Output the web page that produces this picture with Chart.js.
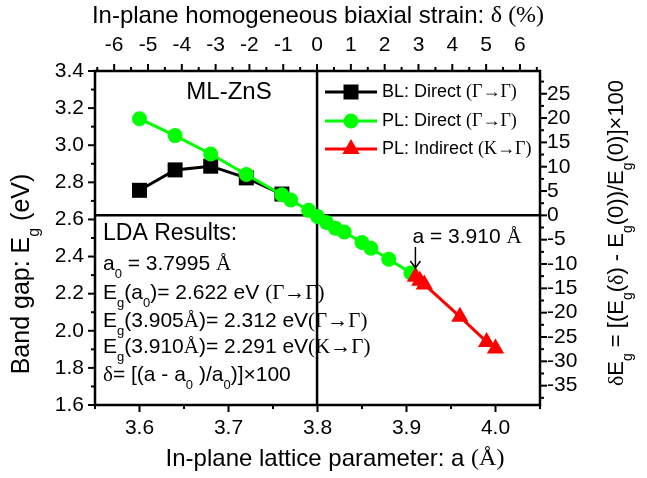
<!DOCTYPE html>
<html><head><meta charset="utf-8">
<script src="https://cdn.jsdelivr.net/npm/chart.js@4/dist/chart.umd.min.js"></script>
<style>html,body{margin:0;padding:0;background:#fff}#wrap{width:647px;height:478px;position:relative}</style>
</head><body><div id="wrap"><canvas id="c" width="647" height="478" style="width:647px;height:478px"></canvas></div>
<script>
// ---- data ----
const aBL  = [3.60, 3.64, 3.68, 3.72, 3.76];
const egBL = [2.757, 2.867, 2.887, 2.824, 2.737];
const aPLd  = [3.60, 3.64, 3.68, 3.72, 3.76, 3.77, 3.79, 3.80, 3.81, 3.82, 3.83, 3.85, 3.86, 3.88, 3.905];
const egPLd = [3.143, 3.052, 2.953, 2.842, 2.733, 2.705, 2.649, 2.616, 2.584, 2.553, 2.532, 2.476, 2.445, 2.386, 2.312];
const aPLi  = [3.91, 3.915, 3.92, 3.96, 3.99, 4.00];
const egPLi = [2.291, 2.270, 2.250, 2.076, 1.940, 1.905];
const a0 = 3.7995, eg0 = 2.622;
const xTicks = [3.6, 3.7, 3.8, 3.9, 4.0];
const yTicks = [1.6, 1.8, 2.0, 2.2, 2.4, 2.6, 2.8, 3.0, 3.2, 3.4];
const strainTicks = [-6, -5, -4, -3, -2, -1, 0, 1, 2, 3, 4, 5, 6];
const dETicks = [25, 20, 15, 10, 5, 0, -5, -10, -15, -20, -25, -30, -35];
const xRange = [3.55, 4.05], yRange = [1.6, 3.4];

const SANS = '"Liberation Sans", Arial, sans-serif';
const SERIF = '"Liberation Serif", "Times New Roman", serif';
Chart.defaults.font.family = SANS;
Chart.defaults.color = '#000';

const toPts = (xs, ys) => xs.map((x, i) => ({x, y: ys[i]}));
const strain = a => (a - a0) / a0 * 100;
const dE = e => (e - eg0) / eg0 * 100;

function rich(ctx, segs, x, y, align, fs) {
  const fontOf = k => k === 's' ? `${fs}px ${SERIF}` : k === 'b' ? `${Math.round(fs * 0.62)}px ${SANS}` : `${fs}px ${SANS}`;
  let w = 0;
  segs.forEach(([t, k]) => { ctx.font = fontOf(k); w += ctx.measureText(t).width; });
  let cx = align === 'center' ? x - w / 2 : x;
  ctx.textBaseline = 'middle'; ctx.textAlign = 'left'; ctx.fillStyle = '#000';
  segs.forEach(([t, k]) => {
    ctx.font = fontOf(k);
    ctx.fillText(t, cx, k === 'b' ? y + fs * 0.5 : y);
    cx += ctx.measureText(t).width;
  });
}

const GREEN = '#00ff00', RED = '#ff0000';

const deco = {
  id: 'deco',
  beforeDatasetsDraw(chart) {
    const {ctx, chartArea: ca, scales} = chart;
    ctx.save();
    ctx.strokeStyle = '#000'; ctx.lineWidth = 2.5;
    const vx = scales.x.getPixelForValue(a0), hy = scales.y.getPixelForValue(eg0);
    ctx.beginPath(); ctx.moveTo(vx, ca.top); ctx.lineTo(vx, ca.bottom);
    ctx.moveTo(ca.left, hy); ctx.lineTo(ca.right, hy); ctx.stroke();
    ctx.restore();
  },
  afterDraw(chart) {
    const {ctx, chartArea: ca, scales} = chart;
    ctx.save();
    ctx.strokeStyle = '#000';
    ctx.lineWidth = 2.5;
    ctx.strokeRect(ca.left, ca.top, ca.right - ca.left, ca.bottom - ca.top);
    ctx.lineWidth = 2;
    const MJ = 7, MN = 4;
    const tick = (sc, v, len, side) => {
      ctx.beginPath();
      const p = sc.getPixelForValue(v);
      if (side === 'b') { ctx.moveTo(p, ca.bottom); ctx.lineTo(p, ca.bottom + len); }
      if (side === 't') { ctx.moveTo(p, ca.top); ctx.lineTo(p, ca.top - len); }
      if (side === 'l') { ctx.moveTo(ca.left, p); ctx.lineTo(ca.left - len, p); }
      if (side === 'r') { ctx.moveTo(ca.right, p); ctx.lineTo(ca.right + len, p); }
      ctx.stroke();
    };
    xTicks.forEach(v => { tick(scales.x, v, MJ, 'b'); tick(scales.x, v - 0.05, MN, 'b'); });
    tick(scales.x, 4.05, MN, 'b');
    yTicks.forEach(v => { tick(scales.y, v, MJ, 'l'); if (v < 3.4) tick(scales.y, v + 0.1, MN, 'l'); });
    strainTicks.forEach(v => { tick(scales.x2, v, MJ, 't'); tick(scales.x2, v - 0.5, MN, 't'); });
    tick(scales.x2, 6.5, MN, 't');
    dETicks.forEach(v => { tick(scales.y2, v, MJ, 'r'); tick(scales.y2, v - 2.5, MN, 'r'); });
    tick(scales.y2, 27.5, MN, 'r');

    // axis titles
    rich(ctx, [['In-plane lattice parameter: a ', 'n'], ['(Å)', 's']], 335, 459, 'center', 24);
    rich(ctx, [['In-plane homogeneous biaxial strain: ', 'n'], ['δ (%)', 's']], 318, 16, 'center', 24);
    ctx.save(); ctx.translate(22, 274); ctx.rotate(-Math.PI / 2);
    rich(ctx, [['Band gap: E', 'n'], ['g', 'b'], [' (eV)', 'n']], 0, 0, 'center', 25);
    ctx.restore();
    ctx.save(); ctx.translate(617, 233); ctx.rotate(-Math.PI / 2);
    rich(ctx, [['δ', 's'], ['E', 'n'], ['g', 'b'], [' = [(E', 'n'], ['g', 'b'], ['(', 'n'], ['δ', 's'], [') - E', 'n'], ['g', 'b'], ['(0))/E', 'n'], ['g', 'b'], ['(0)]×100', 'n']], 0, 0, 'center', 22);
    ctx.restore();

    rich(ctx, [['ML-ZnS', 'n']], 229, 92, 'center', 24);

    // legend
    const lx0 = 325, lx1 = 377, mx = 351, tx = 382;
    const rows = [
      {y: 92, color: '#000', shape: 'rect', txt: [['BL: Direct ', 'n'], ['(Γ→Γ)', 's']]},
      {y: 121, color: GREEN, shape: 'circle', txt: [['PL: Direct ', 'n'], ['(Γ→Γ)', 's']]},
      {y: 149, color: RED, shape: 'tri', txt: [['PL: Indirect ', 'n'], ['(Κ→Γ)', 's']]}
    ];
    rows.forEach(r => {
      ctx.strokeStyle = r.color; ctx.fillStyle = r.color; ctx.lineWidth = 3;
      ctx.beginPath(); ctx.moveTo(lx0, r.y); ctx.lineTo(lx1, r.y); ctx.stroke();
      ctx.beginPath();
      if (r.shape === 'rect') ctx.rect(mx - 7.5, r.y - 7.5, 15, 15);
      if (r.shape === 'circle') ctx.arc(mx, r.y, 7.5, 0, Math.PI * 2);
      if (r.shape === 'tri') { const R = 10; ctx.moveTo(mx, r.y - R); ctx.lineTo(mx + R * 0.866, r.y + R / 2); ctx.lineTo(mx - R * 0.866, r.y + R / 2); ctx.closePath(); }
      ctx.fill();
      rich(ctx, r.txt, tx, r.y, 'left', 18);
    });

    // LDA results text
    const L = 103;
    rich(ctx, [['LDA Results:', 'n']], L, 234, 'left', 23);
    rich(ctx, [['a', 'n'], ['0', 'b'], [' = 3.7995 ', 'n'], ['Å', 's']], L, 264, 'left', 21);
    rich(ctx, [['E', 'n'], ['g', 'b'], ['(a', 'n'], ['0', 'b'], [')= 2.622 eV ', 'n'], ['(Γ→Γ)', 's']], L, 293, 'left', 21);
    rich(ctx, [['E', 'n'], ['g', 'b'], ['(3.905', 'n'], ['Å', 's'], [')= 2.312 eV', 'n'], ['(Γ→Γ)', 's']], L, 321, 'left', 21);
    rich(ctx, [['E', 'n'], ['g', 'b'], ['(3.910', 'n'], ['Å', 's'], [')= 2.291 eV', 'n'], ['(Κ→Γ)', 's']], L, 347, 'left', 21);
    rich(ctx, [['δ', 's'], ['= [(a - a', 'n'], ['0', 'b'], [' )/a', 'n'], ['0', 'b'], [')]×100', 'n']], L, 375, 'left', 21);

    // a = 3.910 annotation
    rich(ctx, [['a = 3.910 ', 'n'], ['Å', 's']], 467, 237, 'center', 21);
    const ax = scales.x.getPixelForValue(3.91);
    ctx.strokeStyle = '#000'; ctx.lineWidth = 1.5;
    ctx.beginPath(); ctx.moveTo(ax, 247); ctx.lineTo(ax, 268);
    ctx.moveTo(ax - 5, 261); ctx.lineTo(ax, 268); ctx.lineTo(ax + 5, 261); ctx.stroke();
    ctx.restore();
  }
};

const tickFont = {size: 21, family: SANS};
const gridOpt = {display: true, drawOnChartArea: false, drawTicks: false, color: 'rgba(0,0,0,0)'};
new Chart(document.getElementById('c'), {
  type: 'scatter',
  data: {
    datasets: [
      {label: 'PL: Indirect (K→Γ)', data: toPts(aPLi, egPLi), showLine: true, borderColor: RED, backgroundColor: RED,
       borderWidth: 3, pointStyle: 'triangle', pointRadius: 10, pointHoverRadius: 10, pointBorderWidth: 0},
      {label: 'PL: Direct (Γ→Γ)', data: toPts(aPLd, egPLd), showLine: true, borderColor: GREEN, backgroundColor: GREEN,
       borderWidth: 3, pointStyle: 'circle', pointRadius: 7.5, pointHoverRadius: 7.5, pointBorderWidth: 0},
      {label: 'BL: Direct (Γ→Γ)', data: toPts(aBL, egBL), showLine: true, borderColor: '#000', backgroundColor: '#000',
       borderWidth: 3, pointStyle: 'rect', pointRadius: 10.6, pointHoverRadius: 10.6, pointBorderWidth: 0}
    ]
  },
  options: {
    responsive: false, maintainAspectRatio: false, animation: false, devicePixelRatio: 1,
    layout: {padding: 0},
    plugins: {legend: {display: false}, tooltip: {enabled: false}},
    scales: {
      x: {type: 'linear', position: 'bottom', min: xRange[0], max: xRange[1],
          afterBuildTicks: s => { s.ticks = xTicks.map(v => ({value: v})); },
          afterFit: s => { s.height = 73; },
          ticks: {font: tickFont, color: '#000', padding: 11, maxRotation: 0, autoSkip: false, callback: v => Number(v).toFixed(1)},
          grid: gridOpt, border: {display: false}},
      x2: {type: 'linear', position: 'top', min: strain(xRange[0]), max: strain(xRange[1]),
          afterBuildTicks: s => { s.ticks = strainTicks.map(v => ({value: v})); },
          afterFit: s => { s.height = 71; },
          ticks: {font: tickFont, color: '#000', padding: 13, maxRotation: 0, autoSkip: false, callback: v => String(Math.round(v))},
          grid: gridOpt, border: {display: false}},
      y: {type: 'linear', position: 'left', min: yRange[0], max: yRange[1],
          afterBuildTicks: s => { s.ticks = yTicks.map(v => ({value: v})); },
          afterFit: s => { s.width = 95; },
          ticks: {font: tickFont, color: '#000', padding: 11, autoSkip: false, callback: v => Number(v).toFixed(1)},
          grid: gridOpt, border: {display: false}},
      y2: {type: 'linear', position: 'right', min: dE(yRange[0]), max: dE(yRange[1]),
          afterBuildTicks: s => { s.ticks = dETicks.map(v => ({value: v})); },
          afterFit: s => { s.width = 107; },
          ticks: {font: tickFont, color: '#000', padding: 7, autoSkip: false, callback: v => String(Math.round(v))},
          grid: gridOpt, border: {display: false}}
    }
  },
  plugins: [deco]
});
</script>
</body></html>
